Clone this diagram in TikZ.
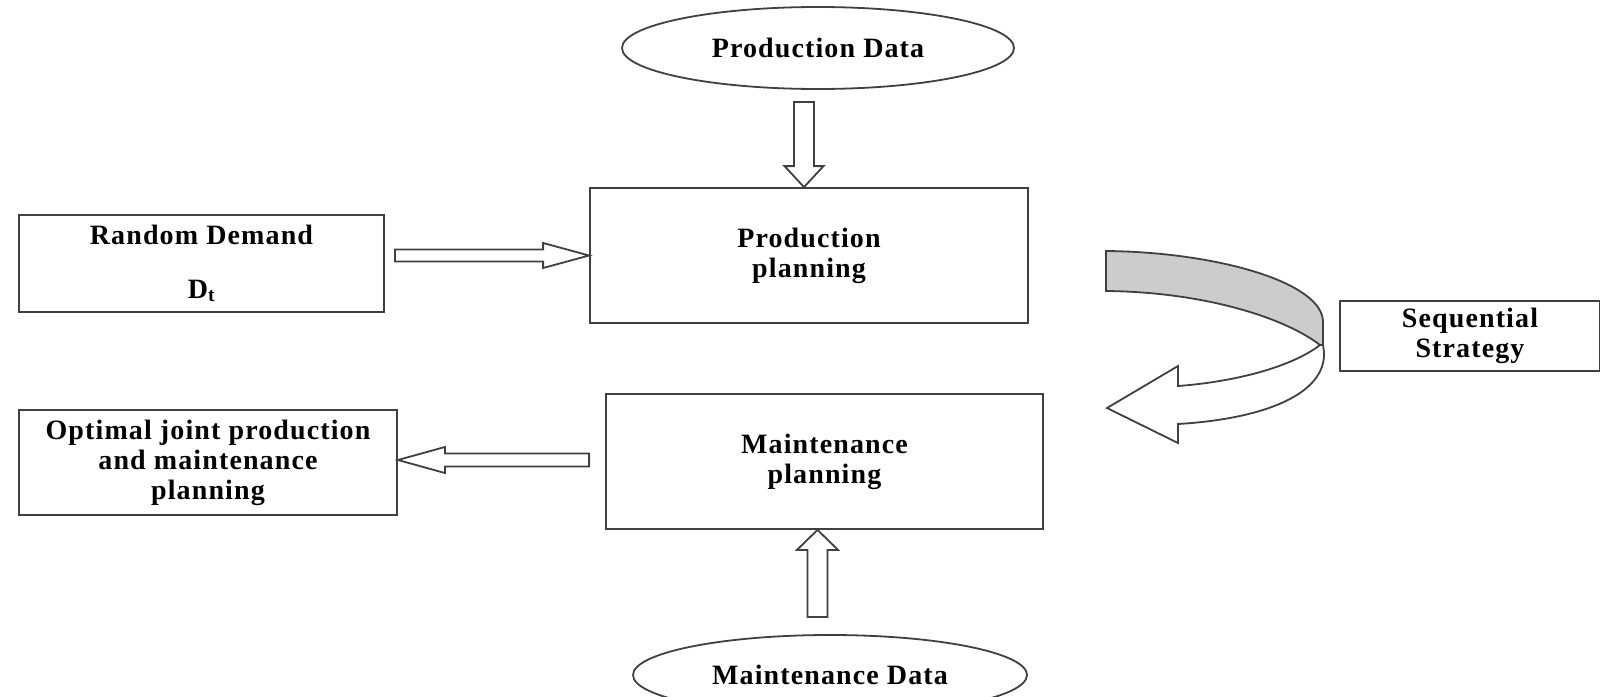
\documentclass[tikz,border=0pt]{standalone}
\usepackage{fontspec}
\setmainfont{Liberation Serif}[LetterSpace=4]
\usetikzlibrary{calc}
\usetikzlibrary{shapes.geometric}

\tikzset{box/.style={draw=black!75, line width=1.8pt, fill=white, align=center, inner sep=0pt,
  font=\bfseries\fontsize{28}{30}\selectfont}}
\tikzset{data/.style={box, ellipse}}
\tikzset{fat/.style={draw=black!75, line width=1.8pt, fill=white, line join=miter}}

% block arrow: start, end, half shaft, half head, head length
\newcommand{\blockarrow}[5]{
\coordinate (ba) at ($(#2)!#5!(#1)$);
\draw [fat] ($(#1)!#3!90:(#2)$) -- ($(ba)!#3!90:(#2)$) -- ($(ba)!#4!90:(#2)$) -- (#2)
  -- ($(ba)!#4!-90:(#2)$) -- ($(ba)!#3!-90:(#2)$) -- ($(#1)!#3!-90:(#2)$) -- cycle;
}

\begin{document}
\begin{tikzpicture}[x=1pt, y=-1pt]
\useasboundingbox (0,0) rectangle (1600,696);
\fill [white] (0,0) rectangle (1600,696);
\clip (0,0) rectangle (1600,696);

\node (pd) at (818,48) [data][minimum width=392pt, minimum height=82pt] {Production Data};
\node (pp) at (809,255.5) [box][minimum width=438pt, minimum height=135pt] {Production\\planning};
\node (rd) at (201.5,263.5) [box][minimum width=365pt, minimum height=97pt] {Random Demand\\[24pt]D\textsubscript{t}};
\node (mp) at (824.5,461.5) [box][minimum width=437pt, minimum height=135pt] {Maintenance\\planning};
\node (opt) at (208,462.5) [box][minimum width=378pt, minimum height=105pt] {Optimal joint production\\and maintenance\\planning};
\node (seq) at (1470,336) [box][minimum width=260pt, minimum height=70pt] {Sequential\\Strategy};
\node (md) at (830,675) [data][minimum width=394pt, minimum height=80pt] {Maintenance Data};

% straight arrows
\coordinate (a1) at ($(rd.east |- pp.west)+(10,0)$);
\blockarrow{a1}{pp.west}{6pt}{12.5pt}{46pt}
\coordinate (a2) at ($(mp.west)+(-16,-1.5)$);
\coordinate (a3) at ($(opt.east)+(0,-2.5)$);
\blockarrow{a2}{a3}{6.5pt}{13pt}{47pt}
\coordinate (a4) at ($(pd.south -| pp.north)+(-5,12)$);
\coordinate (a5) at ($(pp.north)+(-5,0)$);
\blockarrow{a4}{a5}{10pt}{19.5pt}{21pt}
\coordinate (a6) at ($(mp.south)+(-7,87)$);
\coordinate (a7) at ($(mp.south)+(-7,0)$);
\blockarrow{a6}{a7}{10pt}{20.5pt}{20pt}

% curved arrow
\draw [fat][fill=black!20] (1106,251) .. controls (1215,252) and (1323,282) .. (1323,322) -- (1323,345) -- (1320,345)
  .. controls (1285,318) and (1205,292) .. (1106,291) -- cycle;
\draw [fat] (1320,345) .. controls (1290,368) and (1232,382) .. (1178,386) -- (1178,366) -- (1107,408) -- (1178,443)
  -- (1178,424) .. controls (1262,419) and (1326,395) .. (1324,352) -- (1323,345) -- cycle;
\end{tikzpicture}
\end{document}
